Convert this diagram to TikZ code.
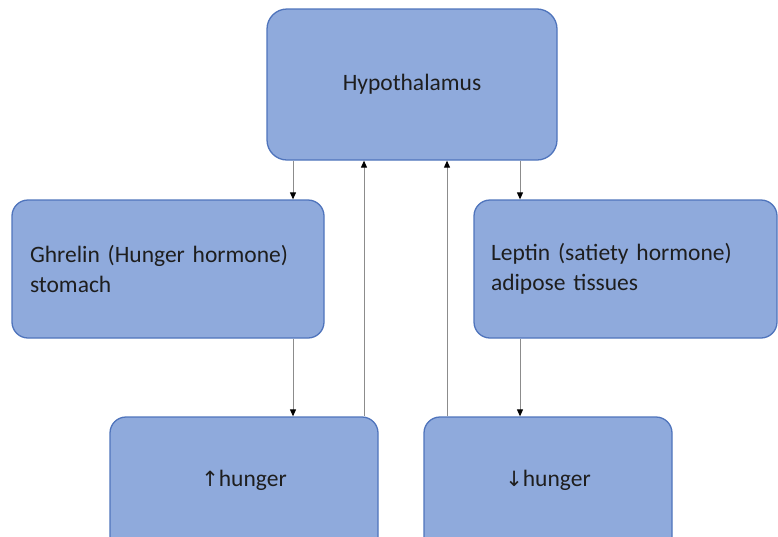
\documentclass[tikz,border=0pt]{standalone}
\usepackage{fontspec}
\setmainfont{Carlito}
\newfontfamily\arrowfont{DejaVu Sans}
\usetikzlibrary{positioning, arrows.meta}
\definecolor{boxfill}{HTML}{8FAADC}
\definecolor{boxline}{HTML}{4F74BC}
\definecolor{linkgray}{HTML}{8C8C8C}
\definecolor{textdark}{HTML}{1E1E1E}

\begin{document}
\begin{tikzpicture}[x=1pt,y=-1pt,font=\fontsize{23.5}{30}\selectfont,
  link/.style={draw=linkgray,line width=1pt,-{Triangle[length=7pt,width=6pt,color=black]}}]
  \tikzstyle{organ}=[rectangle,rounded corners=16pt,draw=boxline,fill=boxfill,line width=1.3pt,text=textdark]
  \useasboundingbox (0,0) rectangle (778,536);

  \node[organ,minimum width=290pt,minimum height=151pt,rounded corners=20pt] (hyp) at (412,84.5) {Hypothalamus};
  \node[organ,minimum width=312pt,minimum height=138pt,text width=276pt,align=left] (ghr) at (168,269) {Ghrelin (Hunger hormone)\\stomach};
  \node[organ,minimum width=303pt,minimum height=138pt,text width=269pt,align=left] (lep) at (625.5,269) {Leptin (satiety hormone)\\adipose tissues};
  \node[organ,minimum width=268pt,minimum height=136pt,text depth=14pt] (more) at (244,485) {{\arrowfont\fontsize{21}{30}\selectfont↑}hunger};
  \node[organ,minimum width=248pt,minimum height=136pt,text depth=14pt] (less) at (548,485) {{\arrowfont\fontsize{21}{30}\selectfont↓}hunger};

  \coordinate (ax) at (293,0);
  \coordinate (bx) at (364,0);
  \coordinate (cx) at (447,0);
  \coordinate (dx) at (520,0);

  \draw[link] (hyp.south -| ax) -- (ghr.north -| ax);
  \draw[link] (hyp.south -| dx) -- (lep.north -| dx);
  \draw[link] (ghr.south -| ax) -- (more.north -| ax);
  \draw[link] (lep.south -| dx) -- (less.north -| dx);
  \draw[link] (more.north -| bx) -- (hyp.south -| bx);
  \draw[link] (less.north -| cx) -- (hyp.south -| cx);
\end{tikzpicture}
\end{document}
